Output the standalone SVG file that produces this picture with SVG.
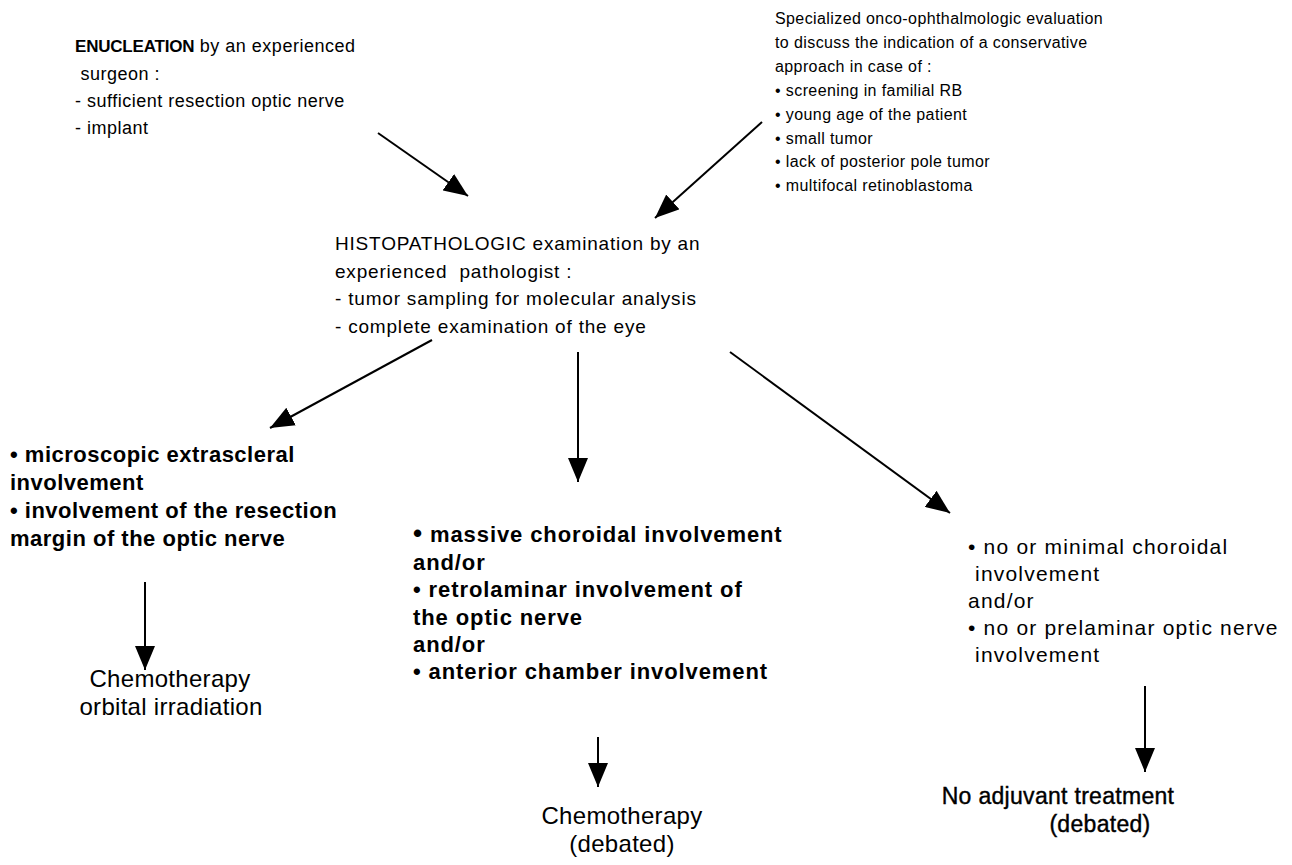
<svg xmlns="http://www.w3.org/2000/svg" width="1292" height="865" viewBox="0 0 1292 865">
<style>
text{font-family:"Liberation Sans",Arial,Helvetica,sans-serif;fill:#000}
.tl{font-size:18px;letter-spacing:0.5px}
.tlb{font-size:17px;font-weight:bold;letter-spacing:-0.2px}
.tr{font-size:16px;letter-spacing:0.4px}
.hi{font-size:19px;letter-spacing:0.8px}
.bd{font-size:22px;font-weight:bold;letter-spacing:0.9px}
.bdl{font-size:22px;font-weight:bold;letter-spacing:0.5px}
.rg{font-size:21px;letter-spacing:1.2px}
.res{font-size:24px;letter-spacing:0.3px;text-anchor:middle}
.resb{font-size:23px;letter-spacing:0.3px;text-anchor:middle;stroke:#000;stroke-width:0.4px}
.con{stroke:#000;stroke-width:2;fill:none}
</style>
<defs>
<marker id="ah" viewBox="0 0 24 20" refX="24" refY="10" markerWidth="24" markerHeight="20" markerUnits="userSpaceOnUse" orient="auto">
<path d="M0,0 L24,10 L0,20 Z" fill="#000"/>
</marker>
</defs>
<rect width="1292" height="865" fill="#fff"/>
<g id="connectors">
<line class="con" x1="378" y1="133" x2="468" y2="196" marker-end="url(#ah)"/>
<line class="con" x1="762" y1="122" x2="655" y2="218" marker-end="url(#ah)"/>
<line class="con" x1="432" y1="340" x2="270" y2="428" marker-end="url(#ah)"/>
<line class="con" x1="578" y1="352" x2="578" y2="482" marker-end="url(#ah)"/>
<line class="con" x1="730" y1="352" x2="950" y2="513" marker-end="url(#ah)"/>
<line class="con" x1="145" y1="582" x2="145" y2="670" marker-end="url(#ah)"/>
<line class="con" x1="598" y1="737" x2="598" y2="787" marker-end="url(#ah)"/>
<line class="con" x1="1145" y1="686" x2="1145" y2="772" marker-end="url(#ah)"/>
</g>
<g id="enucleation">
<text class="tl" x="75" y="52"><tspan class="tlb">ENUCLEATION</tspan> by an experienced</text>
<text class="tl" x="75" y="80" xml:space="preserve"> surgeon :</text>
<text class="tl" x="75" y="107">- sufficient resection optic nerve</text>
<text class="tl" x="75" y="134">- implant</text>
</g>
<g id="evaluation">
<text class="tr" x="775" y="24">Specialized onco-ophthalmologic evaluation</text>
<text class="tr" x="775" y="48">to discuss the indication of a conservative</text>
<text class="tr" x="775" y="72">approach in case of :</text>
<text class="tr" x="775" y="96">• screening in familial RB</text>
<text class="tr" x="775" y="120">• young age of the patient</text>
<text class="tr" x="775" y="144">• small tumor</text>
<text class="tr" x="775" y="167">• lack of posterior pole tumor</text>
<text class="tr" x="775" y="191">• multifocal retinoblastoma</text>
</g>
<g id="histopathologic">
<text class="hi" x="335" y="250">HISTOPATHOLOGIC examination by an</text>
<text class="hi" x="335" y="278" xml:space="preserve">experienced  pathologist :</text>
<text class="hi" x="335" y="305">- tumor sampling for molecular analysis</text>
<text class="hi" x="335" y="333">- complete examination of the eye</text>
</g>
<g id="extrascleral">
<text class="bdl" x="10" y="462">• microscopic extrascleral</text>
<text class="bdl" x="10" y="490">involvement</text>
<text class="bdl" x="10" y="518">• involvement of the resection</text>
<text class="bdl" x="10" y="546">margin of the optic nerve</text>
</g>
<g id="chemo-orbital">
<text class="res" x="170" y="687">Chemotherapy</text>
<text class="res" x="171" y="715">orbital irradiation</text>
</g>
<g id="massive">
<text class="bd" x="413" y="542"><tspan font-size="26px">•</tspan> massive choroidal involvement</text>
<text class="bd" x="413" y="570">and/or</text>
<text class="bd" x="413" y="597">• retrolaminar involvement of</text>
<text class="bd" x="413" y="625">the optic nerve</text>
<text class="bd" x="413" y="652">and/or</text>
<text class="bd" x="413" y="679">• anterior chamber involvement</text>
</g>
<g id="chemo-debated">
<text class="res" x="622" y="824">Chemotherapy</text>
<text class="res" x="622" y="852">(debated)</text>
</g>
<g id="minimal">
<text class="rg" x="968" y="554">• no or minimal choroidal</text>
<text class="rg" x="968" y="581" xml:space="preserve"> involvement</text>
<text class="rg" x="968" y="608">and/or</text>
<text class="rg" x="968" y="635">• no or prelaminar optic nerve</text>
<text class="rg" x="968" y="662" xml:space="preserve"> involvement</text>
</g>
<g id="no-adjuvant">
<text class="resb" x="1058" y="804">No adjuvant treatment</text>
<text class="resb" x="1100" y="832">(debated)</text>
</g>
</svg>
